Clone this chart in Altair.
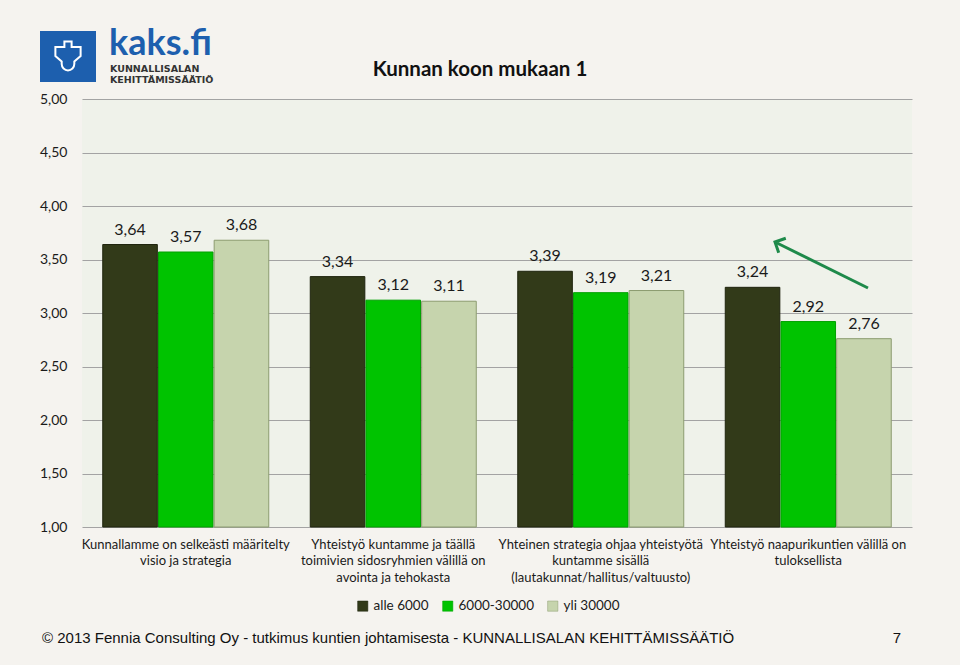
import altair as alt
import pandas as pd

categories = [
    "Kunnallamme on selkeästi määritelty\nvisio ja strategia",
    "Yhteistyö kuntamme ja täällä\ntoimivien sidosryhmien välillä on\navointa ja tehokasta",
    "Yhteinen strategia ohjaa yhteistyötä\nkuntamme sisällä\n(lautakunnat/hallitus/valtuusto)",
    "Yhteistyö naapurikuntien välillä on\ntuloksellista",
]
series = ["alle 6000", "6000-30000", "yli 30000"]
alle_6000 = [3.64, 3.34, 3.39, 3.24]
mid_6000_30000 = [3.57, 3.12, 3.19, 2.92]
yli_30000 = [3.68, 3.11, 3.21, 2.76]
y_ticks = [1.0, 1.5, 2.0, 2.5, 3.0, 3.5, 4.0, 4.5, 5.0]

fill_colors = ["#323a19", "#00c300", "#c6d4ad"]
stroke_colors = ["#1f240e", "#00a000", "#8c9c70"]

rows = []
for s, vals in zip(series, [alle_6000, mid_6000_30000, yli_30000]):
    for c, v in zip(categories, vals):
        rows.append({"cat": c, "series": s, "value": v})
df = pd.DataFrame(rows)

FONT = "Lato"

x_enc = alt.X(
    "cat:N", sort=categories,
    scale=alt.Scale(paddingInner=0.2, paddingOuter=0.1),
    axis=alt.Axis(title=None, labelAngle=0, labelExpr="split(datum.label, '\\n')",
                  ticks=False, domain=False, labelPadding=11, labelFontSize=13,
                  labelLineHeight=16.5, labelLimit=0, labelColor="#1a1a1a",
                  labelFont=FONT, labelBaseline="top"),
)
xoff = alt.XOffset("series:N", sort=series, scale=alt.Scale(paddingInner=0.02))
y_enc = alt.Y(
    "value:Q",
    scale=alt.Scale(domain=[1, 5], zero=False, nice=False),
    axis=alt.Axis(title=None, values=y_ticks, domain=False, ticks=False,
                  labelExpr="replace(format(datum.value, '.2f'), '.', ',')",
                  labelPadding=15, labelFontSize=14, labelFont=FONT,
                  labelColor="#1a1a1a", gridColor="#a3a3a3", gridWidth=1),
)

base = alt.Chart(df)

bars = base.mark_bar(strokeWidth=1).encode(
    x=x_enc, xOffset=xoff, y=y_enc, y2=alt.datum(1),
    fill=alt.Fill("series:N", sort=series,
                  scale=alt.Scale(domain=series, range=fill_colors),
                  legend=alt.Legend(title=None, orient="none", legendX=274, legendY=500,
                                    direction="horizontal", symbolType="square",
                                    symbolSize=105, labelFontSize=13.5, labelFont=FONT,
                                    labelColor="#1a1a1a", columnPadding=12, labelOffset=4,
                                    symbolStrokeColor="#555", symbolStrokeWidth=0.5)),
    stroke=alt.Stroke("series:N", sort=series,
                      scale=alt.Scale(domain=series, range=stroke_colors), legend=None),
)

labels = base.transform_calculate(
    lab="replace(format(datum.value, '.2f'), '.', ',')"
).mark_text(baseline="bottom", dy=-7, fontSize=16, font=FONT, color="#1a1a1a").encode(
    x=x_enc, xOffset=xoff, y=y_enc, text="lab:N"
)

one = alt.Data(values=[{}])

title = alt.Chart(one).mark_text(
    fontSize=20.5, fontWeight="bold", font=FONT, color="#111", align="center", baseline="middle"
).encode(x=alt.value(398), y=alt.value(-29), text=alt.value("Kunnan koon mukaan 1"))

logo_box = alt.Chart(one).mark_rect(color="#1d5fae").encode(
    x=alt.value(-42), x2=alt.value(14), y=alt.value(-68), y2=alt.value(-17)
)
logo_emblem = alt.Chart(one).mark_point(
    shape="M-0.7,-0.5L-0.2,-0.5L-0.2,-0.8L0.2,-0.8L0.2,-0.5L0.7,-0.5L0.7,0L0.35,0.3L0.35,0.45A0.35,0.35,0,1,1,-0.35,0.45L-0.35,0.3L-0.7,0Z",
    filled=False, color="white", strokeWidth=2, size=1300, opacity=1
).encode(x=alt.value(-14), y=alt.value(-43))
logo_text = alt.Chart(one).mark_text(
    fontSize=36, font=FONT, fontWeight="bold", color="#1d5fae", align="left", baseline="alphabetic"
).encode(x=alt.value(27), y=alt.value(-44), text=alt.value("kaks.fi"))
logo_sub1 = alt.Chart(one).mark_text(
    fontSize=9.5, font="DejaVu Sans", fontWeight="bold", color="#333", align="left", baseline="middle"
).encode(x=alt.value(28), y=alt.value(-30), text=alt.value("KUNNALLISALAN"))
logo_sub2 = alt.Chart(one).mark_text(
    fontSize=9.5, font="DejaVu Sans", fontWeight="bold", color="#333", align="left", baseline="middle"
).encode(x=alt.value(28), y=alt.value(-19), text=alt.value("KEHITTÄMISSÄÄTIÖ"))

arrow_line = alt.Chart(one).mark_rule(color="#1e8a4a", strokeWidth=3).encode(
    x=alt.value(786), y=alt.value(189), x2=alt.value(695), y2=alt.value(144)
)
arrow_head = alt.Chart(one).mark_point(
    shape="M-1,1L0,0L1,1", filled=False, color="#1e8a4a", strokeWidth=3,
    size=260, angle=296, opacity=1
).encode(x=alt.value(693), y=alt.value(143))

footer = alt.Chart(one).mark_text(
    fontSize=15, font="Liberation Sans", color="#111", align="left", baseline="middle"
).encode(x=alt.value(-40), y=alt.value(539),
         text=alt.value("© 2013 Fennia Consulting Oy  -  tutkimus kuntien johtamisesta - KUNNALLISALAN KEHITTÄMISSÄÄTIÖ"))
page = alt.Chart(one).mark_text(
    fontSize=15, font="Liberation Sans", color="#111", align="center", baseline="middle"
).encode(x=alt.value(815), y=alt.value(539), text=alt.value("7"))

chart = alt.layer(
    bars, labels, title, logo_box, logo_emblem, logo_text, logo_sub1, logo_sub2,
    arrow_line, arrow_head, footer, page
).properties(
    width=830, height=428,
    autosize=alt.AutoSizeParams(type="none"),
    padding={"left": 82, "top": 99, "right": 48, "bottom": 138},
    background="#f5f3ef",
).configure_view(fill="#eff2ea", stroke=None)

chart.save("out.html", embed_options={"renderer": "svg", "actions": False})
